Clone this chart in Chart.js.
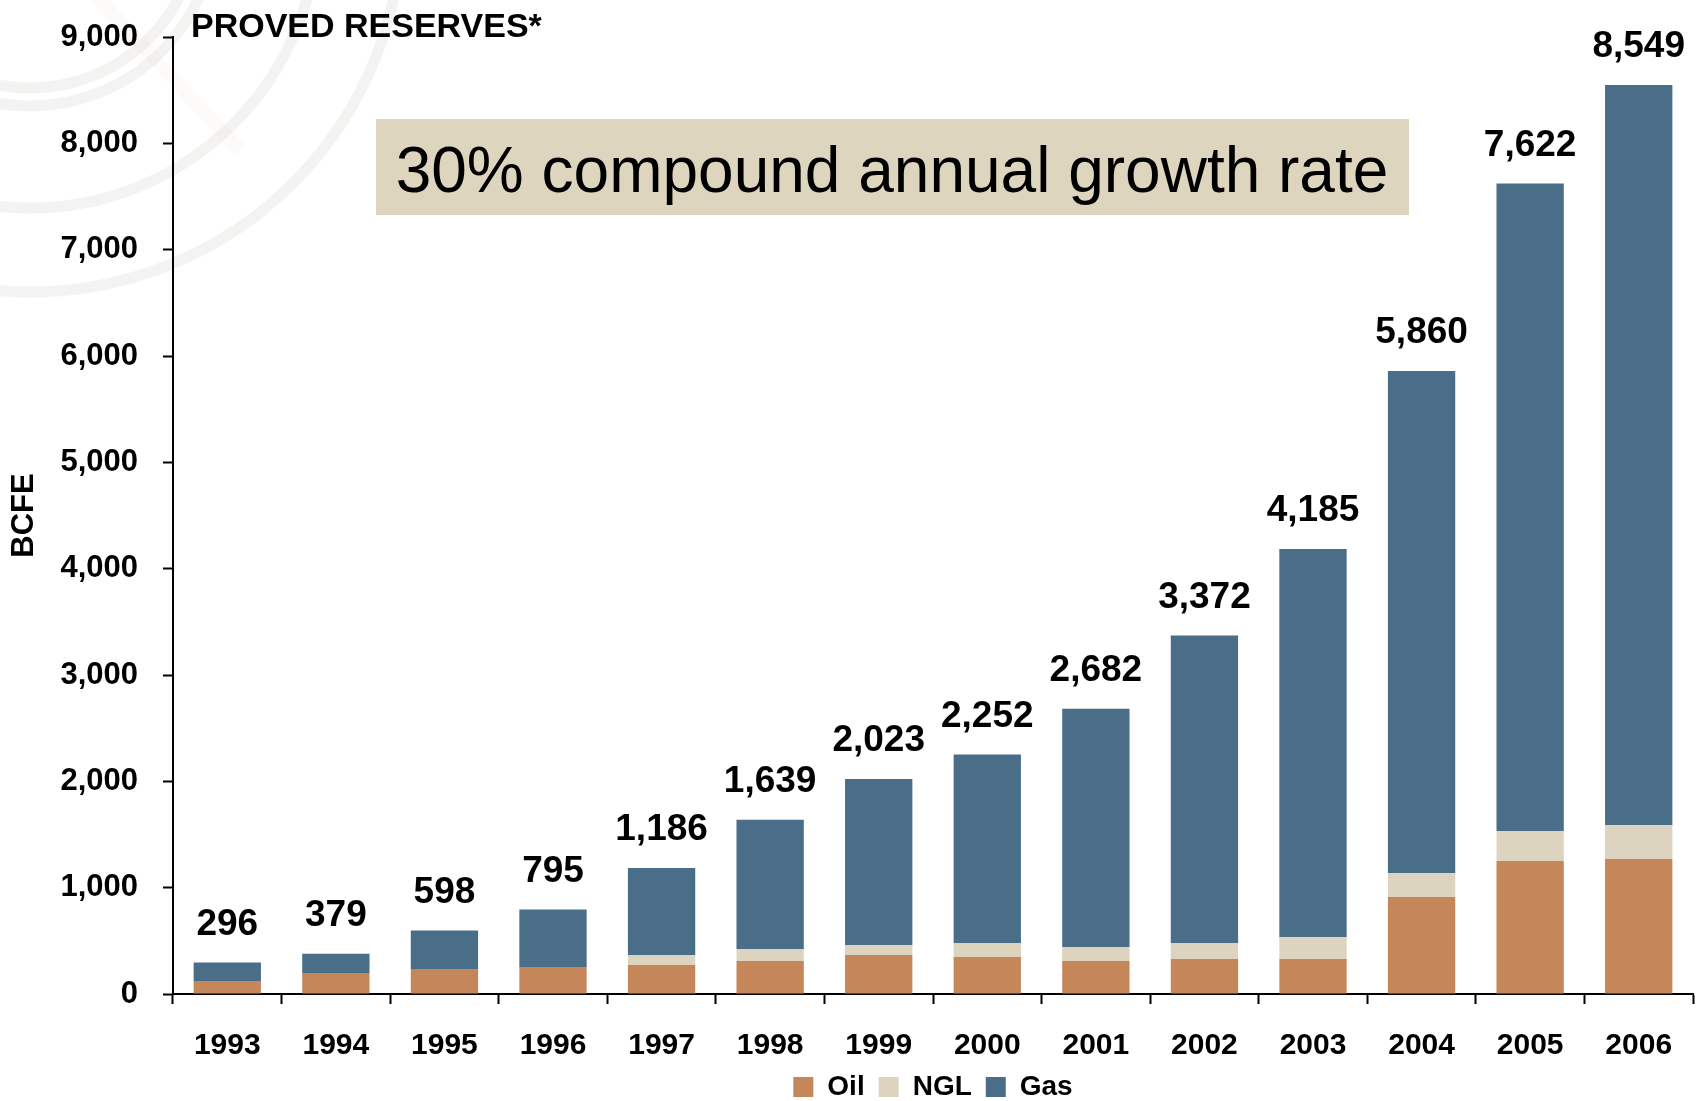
<!DOCTYPE html>
<html>
<head>
<meta charset="utf-8">
<title>Proved reserves</title>
<script src="https://cdn.jsdelivr.net/npm/chart.js@4.4.1/dist/chart.umd.min.js"></script>
<style>
  html, body { margin: 0; padding: 0; background: #fff; }
  canvas { display: block; }
</style>
</head>
<body>
<canvas id="reservas" width="1701" height="1101"></canvas>
<script>
const anos = ['1993', '1994', '1995', '1996', '1997', '1998', '1999', '2000', '2001', '2002', '2003', '2004', '2005', '2006'];
const oil = [122, 197, 235, 254, 273, 310, 367, 348, 310, 329, 329, 912, 1250, 1269];
const ngl = [0, 0, 0, 0, 94, 113, 93, 131, 132, 150, 207, 225, 282, 319];
const gas = [174, 182, 363, 541, 819, 1216, 1563, 1773, 2240, 2893, 3649, 4723, 6090, 6961];
const ticksY = [0, 1000, 2000, 3000, 4000, 5000, 6000, 7000, 8000, 9000];

const cores = { oil: '#C5865A', ngl: '#DCD4BE', gas: '#4A6E88' };
const fonte = '"Liberation Sans", Arial, sans-serif';

// aneis claros no canto de cima (marca d'agua)
const aneis = {
    id: 'aneis',
    beforeDraw(chart) {
        const ctx = chart.ctx;
        ctx.save();
        ctx.fillStyle = '#fff';
        ctx.fillRect(0, 0, chart.width, chart.height);
        ctx.strokeStyle = 'rgba(110, 100, 95, 0.08)';
        ctx.lineWidth = 11;
        [168, 186, 288, 372].forEach(r => {
            ctx.beginPath();
            ctx.arc(30, -80, r, 0, Math.PI * 2);
            ctx.stroke();
        });
        ctx.strokeStyle = 'rgba(215, 150, 100, 0.04)';
        ctx.lineWidth = 14;
        ctx.beginPath();
        ctx.moveTo(90, -10);
        ctx.lineTo(240, 150);
        ctx.stroke();
        ctx.restore();
    }
};

// titulo e caixa com a taxa de crescimento
const cabecalho = {
    id: 'cabecalho',
    afterDraw(chart) {
        const ctx = chart.ctx;
        ctx.save();
        ctx.fillStyle = '#000';
        ctx.font = 'bold 34px ' + fonte;
        ctx.textAlign = 'left';
        ctx.textBaseline = 'alphabetic';
        ctx.fillText('PROVED RESERVES*', 191, 37);

        ctx.fillStyle = '#DDD5BE';
        ctx.fillRect(376, 119, 1033, 96);
        ctx.fillStyle = '#000';
        ctx.font = '64px ' + fonte;
        ctx.textAlign = 'center';
        ctx.textBaseline = 'middle';
        ctx.fillText('30% compound annual growth rate', 892, 174);
        ctx.restore();
    }
};

// total de cada ano em cima da pilha
const totais = {
    id: 'totais',
    afterDatasetsDraw(chart) {
        const ctx = chart.ctx;
        const ds = chart.data.datasets;
        const topo = chart.getDatasetMeta(ds.length - 1);
        ctx.save();
        ctx.fillStyle = '#000';
        ctx.font = 'bold 37px ' + fonte;
        ctx.textAlign = 'center';
        ctx.textBaseline = 'middle';
        topo.data.forEach((barra, i) => {
            const total = ds.reduce((s, d) => s + d.data[i], 0);
            ctx.fillText(total.toLocaleString('en-US'), barra.x, barra.y - 38);
        });
        ctx.restore();
    }
};

// deixa os anos do eixo x sem corte embaixo
const semCorte = {
    id: 'semCorte',
    afterLayout(chart) {
        chart.scales.x.bottom = chart.height;
    }
};

const ctx = document.getElementById('reservas').getContext('2d');
new Chart(ctx, {
    type: 'bar',
    data: {
        labels: anos,
        datasets: [
            { label: 'Oil', data: oil, backgroundColor: cores.oil },
            { label: 'NGL', data: ngl, backgroundColor: cores.ngl },
            { label: 'Gas', data: gas, backgroundColor: cores.gas }
        ]
    },
    options: {
        responsive: false,
        animation: false,
        layout: { padding: { top: 37, right: 8, left: 0, bottom: -10 } },
        datasets: { bar: { barPercentage: 0.62, categoryPercentage: 1.0 } },
        plugins: {
            legend: {
                position: 'bottom',
                fullSize: false,
                labels: {
                    boxWidth: 20,
                    boxHeight: 20,
                    padding: 14,
                    color: '#000',
                    font: { family: fonte, size: 28, weight: 'bold' }
                }
            },
            tooltip: { enabled: false }
        },
        scales: {
            x: {
                stacked: true,
                grid: { drawOnChartArea: false, offset: true, tickLength: 10, tickWidth: 2, tickColor: '#000' },
                border: { color: '#000', width: 2 },
                ticks: { color: '#000', padding: 24, maxRotation: 0, font: { family: fonte, size: 30, weight: 'bold' } },
                afterFit(s) { s.height = 65; }
            },
            y: {
                stacked: true,
                min: 0,
                max: 9000,
                afterBuildTicks(s) { s.ticks = ticksY.map(v => ({ value: v })); },
                grid: { drawOnChartArea: false, tickLength: 10, tickWidth: 2, tickColor: '#000' },
                border: { color: '#000', width: 2 },
                ticks: {
                    color: '#000',
                    padding: 25,
                    font: { family: fonte, size: 31, weight: 'bold' },
                    callback: v => v.toLocaleString('en-US')
                },
                title: {
                    display: true,
                    text: 'BCFE',
                    color: '#000',
                    padding: { top: 6, bottom: 0 },
                    font: { family: fonte, size: 31, weight: 'bold' }
                },
                afterFit(s) {
                    s.width = 173;
                    // o padding dos ticks nao deve empurrar o topo do grafico
                    s.paddingTop = 0;
                    s.paddingBottom = 0;
                }
            }
        }
    },
    plugins: [aneis, cabecalho, totais, semCorte]
});
</script>
</body>
</html>
